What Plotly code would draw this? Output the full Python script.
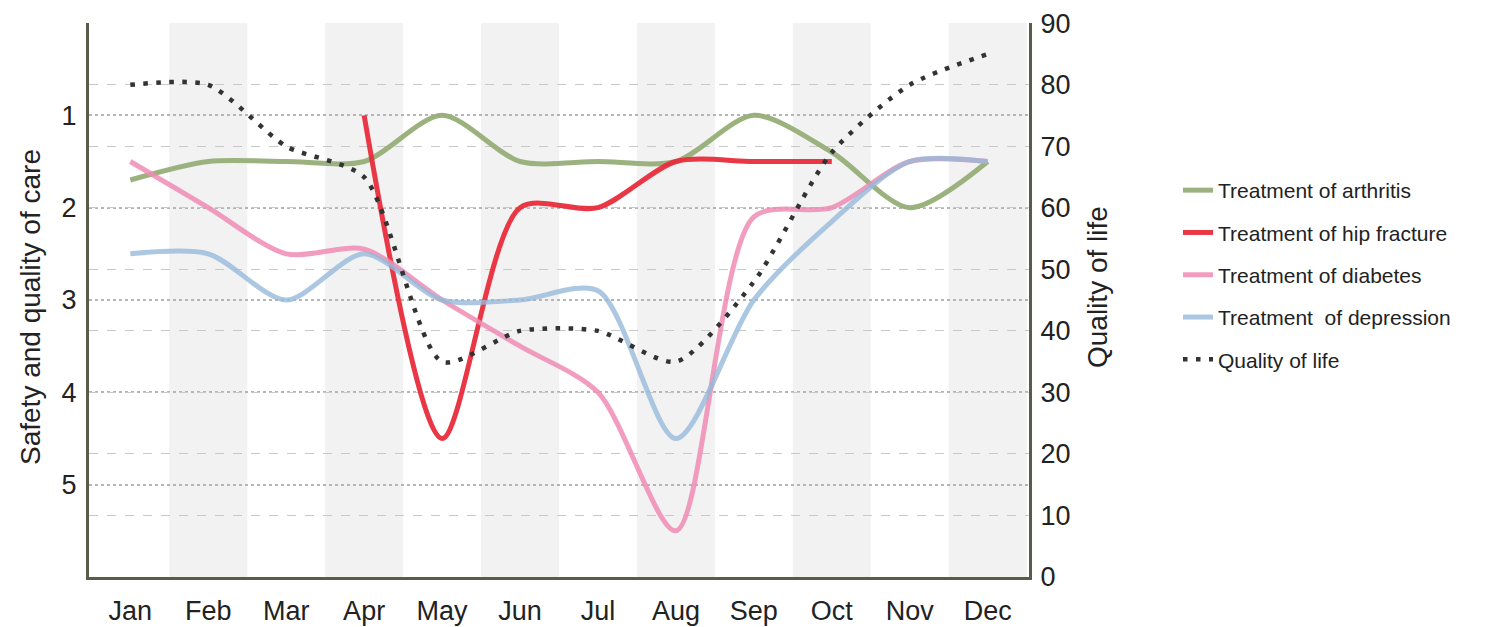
import plotly.graph_objects as go

months = ["Jan", "Feb", "Mar", "Apr", "May", "Jun", "Jul", "Aug", "Sep", "Oct", "Nov", "Dec"]
arthritis = [1.7, 1.5, 1.5, 1.5, 1.0, 1.5, 1.5, 1.5, 1.0, 1.4, 2.0, 1.5]
hip_fracture = [None, None, None, 1.0, 4.5, 2.0, 2.0, 1.5, 1.5, 1.5, None, None]
diabetes = [1.5, 2.0, 2.5, 2.45, 3.0, 3.5, 4.0, 5.5, 2.1, 2.0, 1.5, 1.5]
depression = [2.5, 2.5, 3.0, 2.5, 3.0, 3.0, 2.9, 4.5, 3.0, 2.15, 1.5, 1.5]
quality_of_life = [80, 80, 70, 65, 35, 40, 40, 35, 48, 69, 80, 85]

left_ticks = [0, 1, 2, 3, 4, 5, 6]
left_ticktext = ["", "1", "2", "3", "4", "5", ""]
right_ticks = [0, 10, 20, 30, 40, 50, 60, 70, 80, 90]

FONT = "Liberation Sans, Arial, sans-serif"
TXT = "#222222"
AXC = "#5b5b4b"

# page layout (the html body adds an 8px margin)
W, H = 1483, 619
PL, PR, PT, PB = 89, 1029, 23, 577   # plot area in page pixels


def px_x(p):
    return (p - PL) / (PR - PL)


def px_y(p):
    return (PB - p) / (PB - PT)


fig = go.Figure()

series = [
    ("Treatment of arthritis", arthritis, "rgba(150,174,120,0.95)"),
    ("Treatment of hip fracture", hip_fracture, "rgba(232,44,60,0.95)"),
    ("Treatment of diabetes", diabetes, "rgba(240,140,180,0.85)"),
    ("Treatment  of depression", depression, "rgba(150,185,218,0.8)"),
]
for name, vals, col in series:
    fig.add_trace(go.Scatter(
        x=months, y=vals, name=name, mode="lines",
        line=dict(color=col, width=5, shape="spline", smoothing=0.8),
        connectgaps=False, legendgroup=name, yaxis="y",
    ))

fig.add_trace(go.Scatter(
    x=months, y=quality_of_life, name="Quality of life", mode="lines",
    line=dict(color="#333333", width=4.5, shape="spline", smoothing=0.7, dash="4.5px,8.5px"),
    legendgroup="qol", yaxis="y2",
))

# alternating grey bands
for i, m in enumerate(months):
    if i % 2 == 1:
        fig.add_shape(type="rect", xref="x", yref="paper", x0=i - 0.5, x1=i + 0.5,
                      y0=0, y1=1, fillcolor="#f2f2f2", line_width=0, layer="below")

fig.update_layout(
    width=W, height=H,
    margin=dict(l=PL - 8, r=W - (PR - 8), t=PT - 8, b=H - (PB - 8), autoexpand=False),
    paper_bgcolor="white", plot_bgcolor="white",
    font=dict(family=FONT, color=TXT, size=22),
    xaxis=dict(
        type="category", range=[-0.53, 11.53], showgrid=False, zeroline=False,
        showline=True, linecolor=AXC, linewidth=3, automargin=False,
        tickfont=dict(size=27, color=TXT), ticks="", ticklabelstandoff=8,
    ),
    yaxis=dict(
        range=[6, 0], tickvals=left_ticks, ticktext=left_ticktext,
        showgrid=True, gridcolor="#b5b5b5", griddash="dot", gridwidth=1.5,
        zeroline=False, showline=True, linecolor=AXC, linewidth=3, automargin=False,
        tickfont=dict(size=27, color=TXT), ticks="", ticklabelstandoff=4,
    ),
    yaxis2=dict(
        range=[0, 90.05], tickvals=right_ticks, overlaying="y", side="right",
        showgrid=True, gridcolor="#c8c8c8", griddash="dash", gridwidth=1,
        zeroline=False, showline=True, linecolor=AXC, linewidth=3, automargin=False,
        tickfont=dict(size=27, color=TXT), ticks="", ticklabelstandoff=3,
        ticklabeloverflow="allow",
    ),
    legend=dict(
        x=px_x(1178), y=px_y(170), xanchor="left", yanchor="top",
        font=dict(size=21, color=TXT), traceorder="grouped",
        tracegroupgap=12, bgcolor="rgba(0,0,0,0)",
    ),
    showlegend=True,
)

fig.add_annotation(text="Safety and quality of care", xref="paper", yref="paper",
                   x=px_x(30), y=px_y(307), xanchor="center", yanchor="middle",
                   textangle=-90, showarrow=False, font=dict(size=28, color=TXT))
fig.add_annotation(text="Quality of life", xref="paper", yref="paper",
                   x=px_x(1097), y=px_y(287), xanchor="center", yanchor="middle",
                   textangle=-90, showarrow=False, font=dict(size=28, color=TXT))

fig.write_html("out.html")
